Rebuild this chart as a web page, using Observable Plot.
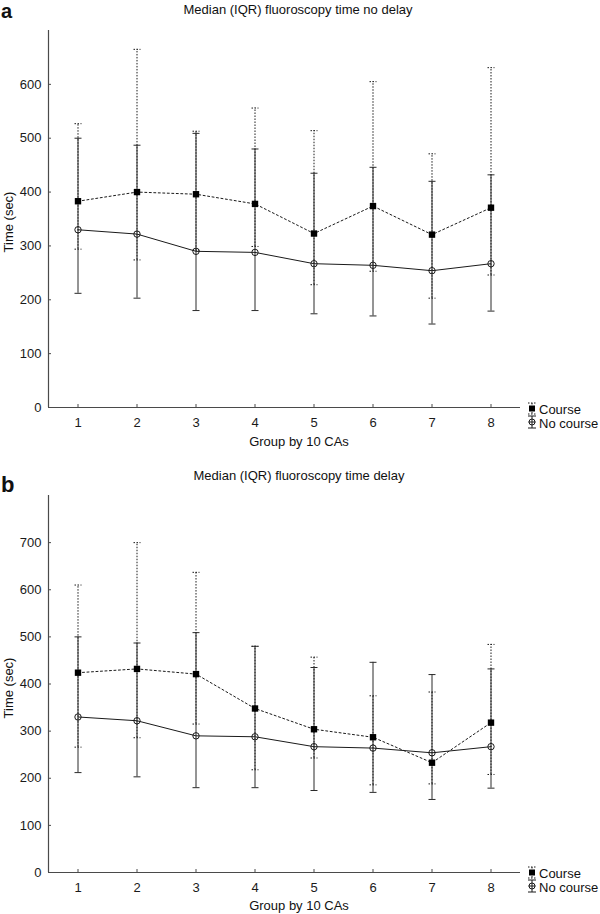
<!DOCTYPE html>
<html>
<head>
<meta charset="utf-8">
<script src="https://cdn.jsdelivr.net/npm/d3@7"></script>
<script src="https://cdn.jsdelivr.net/npm/@observablehq/plot@0.6"></script>
<style>
  html, body { margin: 0; padding: 0; background: #fff; }
  #wrap { position: relative; width: 600px; height: 914px; font-family: "Liberation Sans", Arial, sans-serif; }
  .panel { position: absolute; left: 0; width: 600px; height: 457px; }
  #overlay { position: absolute; left: 0; top: 0; pointer-events: none; }
  #overlay text { font-family: "Liberation Sans", Arial, sans-serif; fill: #111; }
</style>
</head>
<body>
<div id="wrap">
  <div class="panel" id="pa" style="top:0"></div>
  <div class="panel" id="pb" style="top:457px"></div>
  <svg id="overlay" width="600" height="914"></svg>
</div>
<script>
// ---------- data ----------
const groups = [1, 2, 3, 4, 5, 6, 7, 8];

// No course (same in both panels): median and IQR
const noCourseMed = [330, 322, 290, 288, 267, 264, 254, 267];
const noCourseLo  = [212, 203, 180, 180, 174, 170, 155, 179];
const noCourseHi  = [500, 487, 509, 480, 435, 446, 420, 432];

// Course, panel a (no delay)
const courseMedA = [383, 400, 396, 378, 323, 374, 321, 371];
const courseLoA  = [294, 274, 292, 299, 228, 253, 203, 246];
const courseHiA  = [527, 665, 513, 556, 514, 605, 471, 631];

// Course, panel b (delay)
const courseMedB = [424, 432, 421, 348, 304, 287, 233, 318];
const courseLoB  = [266, 286, 315, 218, 243, 186, 188, 208];
const courseHiB  = [610, 700, 637, 480, 457, 375, 383, 484];

const xDomain = [0.5, 8.5];
const yTicksA = [0, 100, 200, 300, 400, 500, 600];
const yTicksB = [0, 100, 200, 300, 400, 500, 600, 700];
const yMaxA = 700;
const yMaxB = 800;

const titleA = "Median (IQR) fluoroscopy time no delay";
const titleB = "Median (IQR) fluoroscopy time delay";
const xLabel = "Group by 10 CAs";
const yLabel = "Time (sec)";
const seriesNames = ["Course", "No course"];

// ---------- chart ----------
const ink = "#1a1a1a";
const axisColor = "#4a4a4a";
const fs = 13;

const capSymbol = {
  draw(ctx, size) {
    const w = Math.sqrt(size / Math.PI);
    ctx.moveTo(-w, 0);
    ctx.lineTo(w, 0);
  }
};

function rows(med, lo, hi) {
  return groups.map((g, i) => ({ g, med: med[i], lo: lo[i], hi: hi[i] }));
}

function panel(courseRows, noRows, yTicks, yMax, marginTop, marginBottom) {
  return Plot.plot({
    width: 600,
    height: 457,
    marginLeft: 48,
    marginRight: 80,
    marginTop,
    marginBottom,
    style: { fontFamily: "'Liberation Sans', Arial, sans-serif", fontSize: fs + "px", color: ink, background: "transparent" },
    x: { domain: xDomain, axis: null },
    y: { domain: [0, yMax], axis: null },
    marks: [
      // axis lines
      Plot.ruleY([0], { x1: xDomain[0], x2: xDomain[1], stroke: axisColor, strokeWidth: 1.2 }),
      Plot.ruleX([xDomain[0]], { y1: 0, y2: yMax, stroke: axisColor, strokeWidth: 1.2 }),
      Plot.axisY({ ticks: yTicks, anchor: "left", tickSize: -3, tickPadding: 10, label: null, stroke: axisColor, fill: ink, fontSize: fs }),
      Plot.axisX({ ticks: groups, anchor: "bottom", tickSize: -3, tickPadding: 13, label: null, tickFormat: d3.format("d"), stroke: axisColor, fill: ink, fontSize: fs }),
      // course error bars (dotted)
      Plot.ruleX(courseRows, { x: "g", y1: "lo", y2: "hi", stroke: ink, strokeWidth: 1, strokeDasharray: "1.5,1.5" }),
      Plot.dot(courseRows, { x: "g", y: "hi", symbol: capSymbol, r: 3.5, fill: "none", stroke: ink, strokeWidth: 1, strokeDasharray: "1.5,1.5" }),
      Plot.dot(courseRows, { x: "g", y: "lo", symbol: capSymbol, r: 3.5, fill: "none", stroke: ink, strokeWidth: 1, strokeDasharray: "1.5,1.5" }),
      // no course error bars (solid)
      Plot.ruleX(noRows, { x: "g", y1: "lo", y2: "hi", stroke: "#2a2a2a", strokeWidth: 1 }),
      Plot.dot(noRows, { x: "g", y: "hi", symbol: capSymbol, r: 3.5, fill: "none", stroke: "#2a2a2a", strokeWidth: 1 }),
      Plot.dot(noRows, { x: "g", y: "lo", symbol: capSymbol, r: 3.5, fill: "none", stroke: "#2a2a2a", strokeWidth: 1 }),
      // median lines
      Plot.line(courseRows, { x: "g", y: "med", stroke: ink, strokeWidth: 1, strokeDasharray: "2,2.5" }),
      Plot.line(noRows, { x: "g", y: "med", stroke: ink, strokeWidth: 1 }),
      // markers
      Plot.dot(courseRows, { x: "g", y: "med", symbol: "square", r: 3.6, fill: "#000", stroke: "none" }),
      Plot.dot(noRows, { x: "g", y: "med", symbol: "circle", r: 3.2, fill: "none", stroke: ink, strokeWidth: 1 })
    ]
  });
}

const noRows = rows(noCourseMed, noCourseLo, noCourseHi);
document.getElementById("pa").appendChild(panel(rows(courseMedA, courseLoA, courseHiA), noRows, yTicksA, yMaxA, 30, 50));
document.getElementById("pb").appendChild(panel(rows(courseMedB, courseLoB, courseHiB), noRows, yTicksB, yMaxB, 38, 42));

// ---------- text, labels, legends ----------
const ov = d3.select("#overlay");
function txt(x, y, s, opts = {}) {
  const t = ov.append("text").attr("x", x).attr("y", y).text(s)
    .attr("font-size", opts.size || fs)
    .attr("text-anchor", opts.anchor || "start");
  if (opts.weight) t.attr("font-weight", opts.weight);
  if (opts.rotate) t.attr("transform", `rotate(-90 ${x} ${y})`);
  return t;
}
// panel letters
txt(1, 18, "a", { size: 20, weight: "bold" });
txt(1, 492, "b", { size: 22, weight: "bold" });
// titles
txt(298, 14, titleA, { anchor: "middle" });
txt(299, 480, titleB, { anchor: "middle" });
// x labels
txt(299, 446, xLabel, { anchor: "middle" });
txt(299, 910, xLabel, { anchor: "middle" });
// y labels
txt(13, 222, yLabel, { anchor: "middle", rotate: true });
txt(13, 688, yLabel, { anchor: "middle", rotate: true });

function legend(top) {
  const g = ov.append("g").attr("transform", `translate(524,${top})`);
  // Course icon
  g.append("line").attr("x1", 8).attr("x2", 8).attr("y1", 3).attr("y2", 14).attr("stroke", ink).attr("stroke-dasharray", "1.5,1.5");
  g.append("line").attr("x1", 4).attr("x2", 12).attr("y1", 3).attr("y2", 3).attr("stroke", ink).attr("stroke-dasharray", "1.5,1.5");
  g.append("line").attr("x1", 4).attr("x2", 12).attr("y1", 14).attr("y2", 14).attr("stroke", ink).attr("stroke-dasharray", "1.5,1.5");
  g.append("rect").attr("x", 5).attr("y", 5.5).attr("width", 6).attr("height", 6).attr("fill", "#000");
  // No course icon
  g.append("line").attr("x1", 8).attr("x2", 8).attr("y1", 16).attr("y2", 28).attr("stroke", ink);
  g.append("line").attr("x1", 4).attr("x2", 12).attr("y1", 16).attr("y2", 16).attr("stroke", ink);
  g.append("line").attr("x1", 4).attr("x2", 12).attr("y1", 28).attr("y2", 28).attr("stroke", ink);
  g.append("line").attr("x1", 4.5).attr("x2", 11.5).attr("y1", 22).attr("y2", 22).attr("stroke", ink);
  g.append("circle").attr("cx", 8).attr("cy", 22).attr("r", 3).attr("fill", "none").attr("stroke", ink);
  g.append("text").attr("x", 15).attr("y", 14).attr("font-size", fs).text(seriesNames[0]);
  g.append("text").attr("x", 15).attr("y", 28).attr("font-size", fs).text(seriesNames[1]);
}
legend(400);
legend(864);
</script>
</body>
</html>
